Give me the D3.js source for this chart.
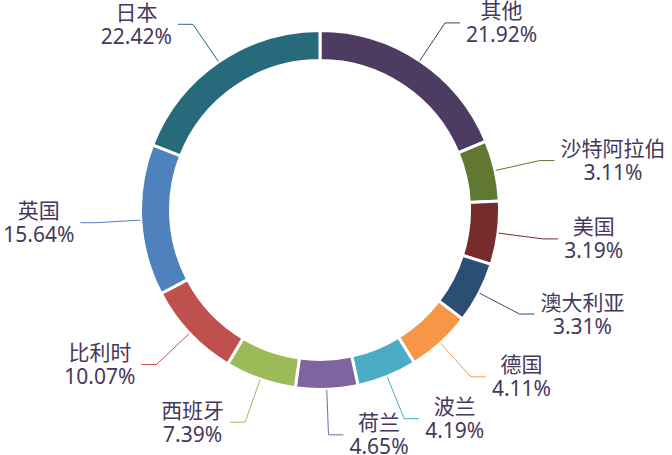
<!DOCTYPE html>
<html>
<head>
<meta charset="utf-8">
<script src="https://cdn.jsdelivr.net/npm/d3@7"></script>
<style>
  html, body { margin: 0; padding: 0; background: #fff; }
  #my_dataviz { width: 672px; height: 455px; }
  text { font-family: "Noto Sans", "Noto Sans CJK SC", sans-serif; }
</style>
</head>
<body>
<div id="my_dataviz"></div>
<script>
// countries, clockwise from 12 o'clock
var countries = ["其他", "沙特阿拉伯", "美国", "澳大利亚", "德国", "波兰", "荷兰", "西班牙", "比利时", "英国", "日本"];
// percentages printed in the labels
var shares = [21.92, 3.11, 3.19, 3.31, 4.11, 4.19, 4.65, 7.39, 10.07, 15.64, 22.42];
// size of each ring segment as drawn in the picture (percent of the ring)
var arcWeights = [18.75, 5.45, 5.7, 5.5, 5.8, 5.4, 5.6, 6.4, 8.7, 13.6, 19.1];
var colors = ["#4d3b62", "#60782f", "#762c2a", "#2c4d74", "#f79646", "#4bacc6", "#8064a2", "#9bbb59", "#c0504d", "#4f81bd", "#276a7c"];

var width = 672, height = 455;
var cx = 320, cy = 210;
var outerR = 179.5, innerR = 149.5;
var textColor = "#46375c";

var data = countries.map(function (c, i) {
    return { name: c, share: shares[i], weight: arcWeights[i], color: colors[i] };
});

var svg = d3.select("#my_dataviz")
    .append("svg")
    .attr("width", width)
    .attr("height", height)
    .append("g")
    .attr("transform", "translate(" + cx + "," + cy + ")");

var pie = d3.pie()
    .sort(null)
    .value(function (d) { return d.weight; });
var data_ready = pie(data);

var arc = d3.arc()
    .innerRadius(innerR)
    .outerRadius(outerR);

svg.selectAll("slices")
    .data(data_ready)
    .enter()
    .append("path")
    .attr("d", arc)
    .attr("fill", function (d) { return d.data.color; })
    .attr("stroke", "white")
    .style("stroke-width", "3px");

// point on a circle of radius r at the middle angle of a slice
function polar(d, r) {
    var a = (d.startAngle + d.endAngle) / 2;
    return [r * Math.sin(a), -r * Math.cos(a)];
}
function isRight(d) {
    return (d.startAngle + d.endAngle) / 2 < Math.PI;
}

var lineStart = 180, elbowR = 225, tail = 15, pad = 6;

svg.selectAll("polylines")
    .data(data_ready)
    .enter()
    .append("polyline")
    .attr("stroke", function (d) { return d.data.color; })
    .attr("stroke-width", 1)
    .style("fill", "none")
    .attr("points", function (d) {
        var a = polar(d, lineStart);
        var b = polar(d, elbowR);
        var c = [b[0] + (isRight(d) ? tail : -tail), b[1]];
        return [a, b, c];
    });

var labels = svg.selectAll("labels")
    .data(data_ready)
    .enter()
    .append("text")
    .style("font-size", "21px")
    .attr("fill", textColor)
    .attr("text-anchor", "middle");

labels.append("tspan")
    .attr("class", "l1")
    .text(function (d) { return d.data.name; });
labels.append("tspan")
    .attr("class", "l2")
    .text(function (d) { return d.data.share.toFixed(2) + "%"; });

labels.each(function (d) {
    var t = d3.select(this);
    var w = 0;
    t.selectAll("tspan").each(function () {
        w = Math.max(w, this.getComputedTextLength());
    });
    var b = polar(d, elbowR);
    var x = isRight(d) ? b[0] + tail + pad + w / 2 : b[0] - tail - pad - w / 2;
    t.select(".l1").attr("x", x).attr("y", b[1] - 12).attr("dy", "0.36em");
    t.select(".l2").attr("x", x).attr("y", b[1] + 12).attr("dy", "0.36em");
});
</script>
</body>
</html>
